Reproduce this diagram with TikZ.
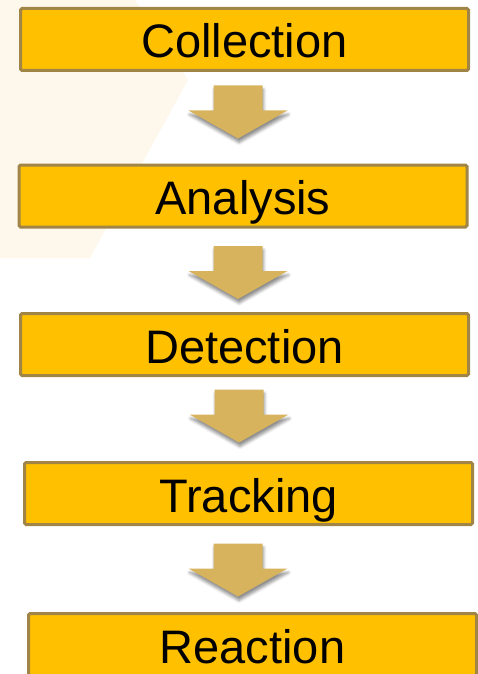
\documentclass[tikz,border=0pt]{standalone}
\usepackage{fontspec}
\setmainfont{Liberation Sans}
\usepackage{xcolor}
\usetikzlibrary{shadows.blur}
\definecolor{boxfill}{RGB}{255,192,0}
\definecolor{boxline}{RGB}{160,133,70}
\definecolor{arrowfill}{RGB}{216,179,94}
\definecolor{bgcream}{RGB}{254,248,236}

\begin{document}
\begin{tikzpicture}[x=1pt,y=-1pt,
  stage/.style={draw=boxline, fill=boxfill, line width=3pt, rounded corners=1.5pt,
    minimum width=448pt, minimum height=62pt, inner sep=0pt,
    text height=37pt, text depth=0pt, font=\fontsize{47}{56}\selectfont},
  flow/.pic={\fill [arrowfill, blur shadow={shadow xshift=1pt, shadow yshift=-4pt, shadow blur radius=3pt, shadow opacity=45}]
    (-24.5,0) -- (24.5,0) -- (24.5,25) -- (49.5,25) -- (0,53) -- (-49.5,25) -- (-24.5,25) -- cycle;}]
\useasboundingbox (0,0) rectangle (477,674);
\fill [bgcream] (0,0) -- (135,0) -- (188,80) -- (90,258) -- (0,258) -- cycle;

\node [stage] (collection) at (244.5,39.5) {Collection};
\node [stage] (analysis) at (243,196) {Analysis};
\node [stage] (detection) at (244.5,344.5) {Detection};
\node [stage] (tracking) at (248.5,493.5) {Tracking};
\node [stage] (reaction) at (252.5,644.5) {Reaction};

\path (collection.south) ++(-6.5,13.5) pic {flow};
\path (analysis.south) ++(-5,17.5) pic {flow};
\path (detection.south) ++(-5.5,12.5) pic {flow};
\path (tracking.south) ++(-10.5,17.5) pic {flow};
\end{tikzpicture}
\end{document}
